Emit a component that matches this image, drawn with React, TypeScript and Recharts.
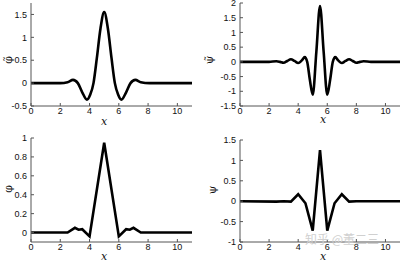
import React from "react";
import { LineChart, Line, XAxis, YAxis } from "recharts";

// dual scaling function (top left)
const phiDualX = [0, 1, 2, 2.5, 2.87, 3.2, 3.5, 3.82, 4.05, 4.27, 4.5, 4.75, 5, 5.25, 5.5, 5.73, 5.95, 6.18, 6.5, 6.8, 7.13, 7.5, 8.1, 9, 10, 11];
const phiDualY = [0, 0, 0, 0.02, 0.07, 0, -0.2, -0.36, -0.25, 0, 0.55, 1.2, 1.55, 1.2, 0.55, 0, -0.25, -0.36, -0.2, 0, 0.07, 0.02, 0, 0, 0, 0];

// dual wavelet (top right)
const psiDualX = [0, 2, 2.5, 2.75, 3.0, 3.25, 3.5, 3.75, 4.0, 4.25, 4.45, 4.62, 4.8, 5.0, 5.25, 5.5, 5.75, 6.0, 6.2, 6.38, 6.55, 6.75, 7.0, 7.25, 7.5, 7.75, 8.0, 8.25, 8.5, 9, 11];
const psiDualY = [0, 0, 0.02, 0, -0.03, 0.03, 0.09, 0.03, -0.04, 0.05, 0.16, 0, -0.6, -1.12, 0.35, 1.9, 0.35, -1.12, -0.6, 0, 0.16, 0.05, -0.04, 0.03, 0.09, 0.03, -0.03, 0, 0.02, 0, 0];

// scaling function (bottom left)
const phiX = [0, 2.5, 3.0, 3.25, 3.5, 4.0, 5.0, 6.0, 6.5, 6.75, 7.0, 7.5, 11];
const phiY = [0, 0, 0.05, 0.03, 0.035, -0.04, 0.95, -0.04, 0.035, 0.03, 0.05, 0, 0];

// wavelet (bottom right)
const psiX = [0, 2.5, 3.0, 3.5, 4.0, 4.5, 5.0, 5.5, 6.0, 6.5, 7.0, 7.5, 8.0, 11];
const psiY = [0, -0.01, 0, -0.01, 0.17, -0.05, -0.72, 1.25, -0.72, -0.05, 0.17, -0.01, 0, 0];

const xTicks = [0, 2, 4, 6, 8, 10];
const ticksPhiDual = [-0.5, 0, 0.5, 1, 1.5];
const ticksPsiDual = [-1.5, -1, -0.5, 0, 0.5, 1, 1.5, 2];
const ticksPhi = [0, 0.2, 0.4, 0.6, 0.8, 1];
const ticksPsi = [-1, -0.5, 0, 0.5, 1, 1.5];

const font = "'Liberation Sans', Arial, sans-serif";
const frame = "#555";

type PanelProps = {
  xs: number[];
  ys: number[];
  left: number;
  top: number;
  width: number;
  height: number;
  yWidth: number;
  marginTop: number;
  marginRight: number;
  xHeight: number;
  domain: [number, number];
  yTicks: number[];
  curve: "monotone" | "linear";
};

function Panel(p: PanelProps) {
  const data = p.xs.map((x, i) => ({ x, y: p.ys[i] }));
  const tickStyle = { fontSize: 9, fill: "#111", fontFamily: font };
  return (
    <div style={{ position: "absolute", left: p.left, top: p.top }}>
      <LineChart
        width={p.width}
        height={p.height}
        data={data}
        margin={{ top: p.marginTop, right: p.marginRight, left: 0, bottom: 0 }}
      >
        <XAxis
          dataKey="x"
          type="number"
          domain={[0, 11]}
          ticks={xTicks}
          height={p.xHeight}
          stroke={frame}
          tick={tickStyle}
          tickSize={-3}
          tickMargin={5}
          interval={0}
        />
        <XAxis
          xAxisId="top"
          orientation="top"
          dataKey="x"
          type="number"
          domain={[0, 11]}
          ticks={xTicks}
          height={0}
          stroke={frame}
          tick={false}
          tickSize={-3}
        />
        <YAxis
          type="number"
          domain={p.domain}
          ticks={p.yTicks}
          width={p.yWidth}
          stroke={frame}
          tick={tickStyle}
          tickSize={-3}
          tickMargin={7}
          interval={0}
          allowDataOverflow
        />
        <YAxis
          yAxisId="right"
          orientation="right"
          type="number"
          domain={p.domain}
          ticks={p.yTicks}
          width={0}
          stroke={frame}
          tick={false}
          tickSize={-3}
          allowDataOverflow
        />
        <Line
          type={p.curve}
          dataKey="y"
          stroke="#000"
          strokeWidth={2.6}
          dot={false}
          isAnimationActive={false}
        />
      </LineChart>
    </div>
  );
}

const labelBase: React.CSSProperties = {
  position: "absolute",
  fontFamily: "'DejaVu Serif', serif",
  fontSize: 11,
  color: "#111",
  lineHeight: 1,
};

function YLabel({ text, x, y }: { text: string; x: number; y: number }) {
  return (
    <div
      style={{
        ...labelBase,
        left: x,
        top: y,
        transform: "translate(-50%, -50%) rotate(-90deg)",
      }}
    >
      {text}
    </div>
  );
}

function XLabel({ x, y }: { x: number; y: number }) {
  return (
    <div style={{ ...labelBase, left: x, top: y, fontStyle: "italic", transform: "translate(-50%, -50%)" }}>
      x
    </div>
  );
}

export default function App() {
  return (
    <div
      style={{
        position: "fixed",
        left: 0,
        top: 0,
        width: 403,
        height: 260,
        background: "#fff",
        overflow: "hidden",
      }}
    >
      <Panel xs={phiDualX} ys={phiDualY} left={0} top={0} width={200} height={130} yWidth={31} marginTop={3} marginRight={8} xHeight={24} domain={[-0.5, 1.75]} yTicks={ticksPhiDual} curve="monotone" />
      <Panel xs={psiDualX} ys={psiDualY} left={200} top={0} width={203} height={130} yWidth={40} marginTop={3} marginRight={3} xHeight={24} domain={[-1.5, 2]} yTicks={ticksPsiDual} curve="monotone" />
      <Panel xs={phiX} ys={phiY} left={0} top={130} width={200} height={130} yWidth={31} marginTop={8} marginRight={8} xHeight={18} domain={[-0.1, 1]} yTicks={ticksPhi} curve="linear" />
      <Panel xs={psiX} ys={psiY} left={200} top={130} width={203} height={130} yWidth={40} marginTop={10} marginRight={3} xHeight={18} domain={[-1, 1.5]} yTicks={ticksPsi} curve="linear" />

      <YLabel text={"\u03C6\u0303"} x={8} y={60} />
      <YLabel text={"\u03C8\u0303"} x={209} y={60} />
      <YLabel text={"\u03C6"} x={8} y={189} />
      <YLabel text={"\u03C8"} x={212} y={190} />

      <XLabel x={104} y={121} />
      <XLabel x={323} y={119} />
      <XLabel x={104} y={256} />
      <XLabel x={323} y={256} />

      <div
        style={{
          position: "absolute",
          left: 305,
          top: 233,
          fontFamily: "'Noto Sans CJK SC', sans-serif",
          fontSize: 12,
          color: "#d0d0d0",
          lineHeight: 1,
          whiteSpace: "nowrap",
        }}
      >
        知乎 @董二三
      </div>
    </div>
  );
}
